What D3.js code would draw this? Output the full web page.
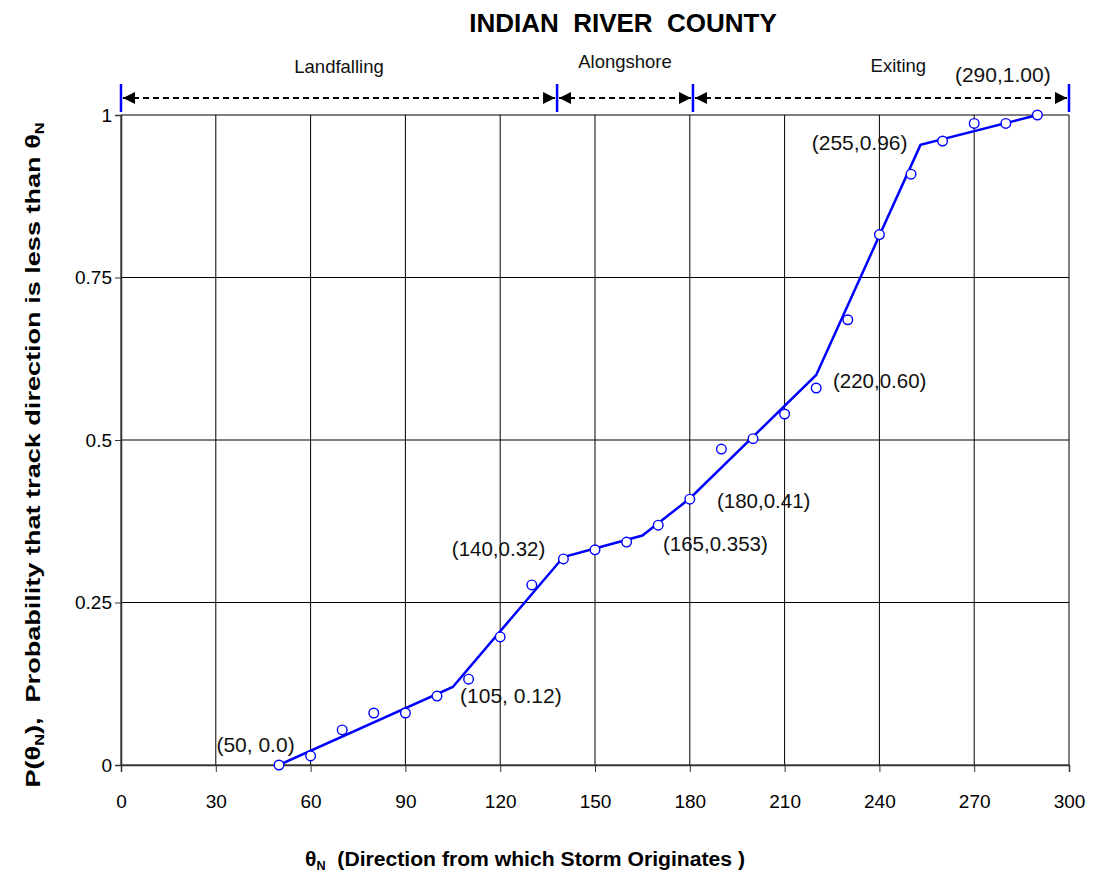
<!DOCTYPE html>
<html>
<head>
<meta charset="utf-8">
<script src="https://cdn.jsdelivr.net/npm/d3@7"></script>
<style>
  body { margin: 0; background: #fff; }
  text { font-family: Arial, "Liberation Sans", sans-serif; }
</style>
</head>
<body>
<svg id="chart" width="1093" height="875"></svg>
<script>
// observed points
const obsTheta = [50, 60, 70, 80, 90, 100, 110, 120, 130, 140, 150, 160, 170, 180, 190, 200, 210, 220, 230, 240, 250, 260, 270, 280, 290];
const obsProb = [0.0, 0.014, 0.054, 0.08, 0.08, 0.106, 0.132, 0.197, 0.277, 0.317, 0.331, 0.343, 0.369, 0.409, 0.486, 0.502, 0.540, 0.580, 0.685, 0.816, 0.909, 0.960, 0.987, 0.987, 1.0];

// piecewise fit
const fitTheta = [50, 105, 140, 165, 180, 220, 253, 290];
const fitProb = [0.0, 0.12, 0.32, 0.353, 0.41, 0.60, 0.954, 1.0];

// annotated breakpoints
const labels = ['(50, 0.0)', '(105, 0.12)', '(140,0.32)', '(165,0.353)', '(180,0.41)', '(220,0.60)', '(255,0.96)', '(290,1.00)'];
const labelX = [30.2, 107.3, 104.7, 171.5, 188.6, 225.3, 218.6, 263.9];
const labelY = [0.020, 0.095, 0.322, 0.329, 0.395, 0.58, 0.946, 1.051];
const labelSans = [false, false, true, true, true, true, false, false];

const xTicks = [0, 30, 60, 90, 120, 150, 180, 210, 240, 270, 300];
const yTicks = [0, 0.25, 0.5, 0.75, 1];

// regions above the plot
const zoneNames = ['Landfalling', 'Alongshore', 'Exiting'];
const zoneBounds = [0, 138, 181, 300];
const zoneLabelX = [69, 159.5, 246];
const zoneLabelY = [1.064, 1.072, 1.066];

const svg = d3.select('#chart');
const x = d3.scaleLinear().domain([0, 300]).range([121, 1069]);
const y = d3.scaleLinear().domain([0, 1]).range([765, 115]);

// grid
svg.append('g').selectAll('line').data(xTicks).enter().append('line')
  .attr('x1', d => x(d)).attr('x2', d => x(d))
  .attr('y1', y(0)).attr('y2', y(1))
  .attr('stroke', '#000').attr('stroke-width', 1);
svg.append('g').selectAll('line').data(yTicks).enter().append('line')
  .attr('x1', x(0)).attr('x2', x(300))
  .attr('y1', d => y(d)).attr('y2', d => y(d))
  .attr('stroke', '#000').attr('stroke-width', 1);

// axes
const xAxis = svg.append('g').attr('transform', 'translate(0,' + y(0) + ')')
  .call(d3.axisBottom(x).tickValues(xTicks).tickSize(7).tickPadding(23).tickFormat(d3.format('d')));
const yAxis = svg.append('g').attr('transform', 'translate(' + x(0) + ',0)')
  .call(d3.axisLeft(y).tickValues(yTicks).tickSize(6).tickPadding(3).tickFormat(d => d));
[xAxis, yAxis].forEach(a => {
  a.select('.domain').attr('stroke', '#333').attr('stroke-width', 1.5);
  a.selectAll('.tick line').attr('stroke', '#333');
  a.selectAll('text').attr('font-size', 19).attr('fill', '#000')
    .attr('font-family', 'Arial, "Liberation Sans", sans-serif');
});

// fitted line
svg.append('path')
  .datum(fitTheta.map((t, i) => [t, fitProb[i]]))
  .attr('fill', 'none').attr('stroke', '#0000ff').attr('stroke-width', 2.5)
  .attr('d', d3.line().x(d => x(d[0])).y(d => y(d[1])));

// observed circles
svg.append('g').selectAll('circle').data(obsTheta).enter().append('circle')
  .attr('cx', d => x(d)).attr('cy', (d, i) => y(obsProb[i]))
  .attr('r', 4.8).attr('fill', '#fff').attr('stroke', '#0000ff').attr('stroke-width', 1.4);

// breakpoint labels
svg.append('g').selectAll('text').data(labels).enter().append('text')
  .attr('x', (d, i) => x(labelX[i])).attr('y', (d, i) => y(labelY[i]))
  .attr('font-size', (d, i) => labelSans[i] ? 20.5 : 21).attr('fill', '#111')
  .attr('font-family', (d, i) => labelSans[i] ? '"Open Sans", sans-serif' : 'Arial, "Liberation Sans", sans-serif')
  .text(d => d);

// zone arrows
const defs = svg.append('defs');
['end', 'start'].forEach(k => {
  defs.append('marker').attr('id', 'arr-' + k)
    .attr('viewBox', '0 0 10 10').attr('refX', 10).attr('refY', 5)
    .attr('markerWidth', 6).attr('markerHeight', 6).attr('markerUnits', 'strokeWidth')
    .attr('orient', k == 'end' ? 'auto' : 'auto-start-reverse')
    .append('path').attr('d', 'M0,0 L10,5 L0,10 z').attr('fill', '#000');
});
const arrowY = 98;
zoneNames.forEach((name, i) => {
  svg.append('line')
    .attr('x1', x(zoneBounds[i]) + 2).attr('x2', x(zoneBounds[i + 1]) - 2)
    .attr('y1', arrowY).attr('y2', arrowY)
    .attr('stroke', '#000').attr('stroke-width', 2).attr('stroke-dasharray', '6,4')
    .attr('marker-start', 'url(#arr-start)').attr('marker-end', 'url(#arr-end)');
  svg.append('text')
    .attr('x', x(zoneLabelX[i]))
    .attr('y', y(zoneLabelY[i]))
    .attr('text-anchor', 'middle').attr('font-size', 18.5).attr('fill', '#111')
    .text(name);
});
svg.append('g').selectAll('line').data(zoneBounds).enter().append('line')
  .attr('x1', d => x(d)).attr('x2', d => x(d))
  .attr('y1', 84).attr('y2', 112)
  .attr('stroke', '#0000ff').attr('stroke-width', 2.5);

// title
svg.append('text').attr('x', 623).attr('y', 32).attr('text-anchor', 'middle')
  .style('white-space', 'pre')
  .attr('font-size', 26).attr('font-weight', 'bold').text('INDIAN  RIVER  COUNTY');

// x label
const xl = svg.append('text').attr('x', 305).attr('y', 866)
  .attr('font-size', 20).attr('font-weight', 'bold')
  .style('white-space', 'pre')
  .attr('textLength', 440).attr('lengthAdjust', 'spacingAndGlyphs');
xl.append('tspan').text('θ');
xl.append('tspan').attr('font-size', 12).attr('dy', 4).text('N');
xl.append('tspan').attr('dy', -4).text('  (Direction from which Storm Originates )');

// y label
const yl = svg.append('text').attr('transform', 'translate(40,455) rotate(-90)')
  .attr('text-anchor', 'middle').attr('font-size', 20).attr('font-weight', 'bold')
  .style('white-space', 'pre')
  .attr('textLength', 665).attr('lengthAdjust', 'spacingAndGlyphs');
yl.append('tspan').text('P(θ');
yl.append('tspan').attr('font-size', 12).attr('dy', 4).text('N');
yl.append('tspan').attr('dy', -4).text('),  Probability that track direction is less than θ');
yl.append('tspan').attr('font-size', 12).attr('dy', 4).text('N');
</script>
</body>
</html>
